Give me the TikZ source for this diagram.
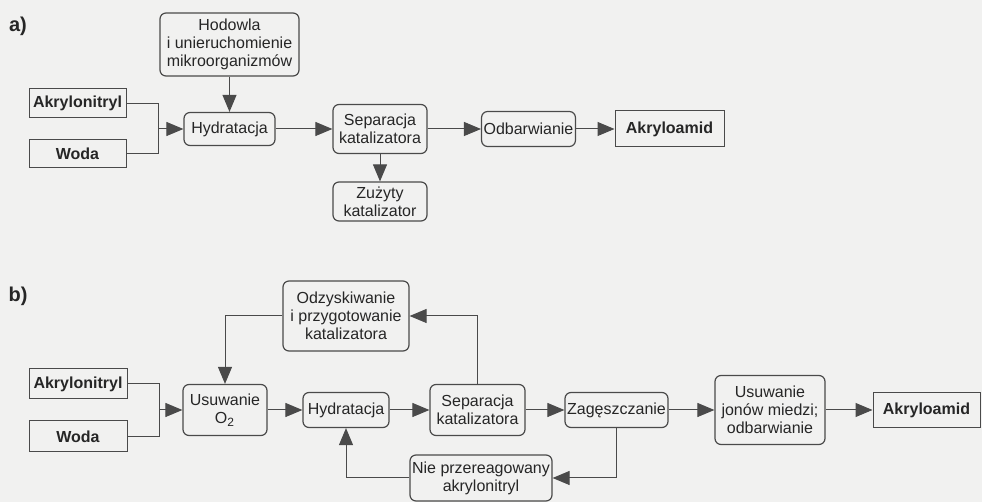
\documentclass[tikz,border=0pt]{standalone}
\usepackage{fontspec}
\setmainfont{Liberation Sans}
\usepackage{tikz}
\usetikzlibrary{positioning}
\usetikzlibrary{arrows.meta}

\definecolor{paper}{HTML}{F1F1F0}
\definecolor{ink}{HTML}{4A4A4A}

\tikzset{
  stage/.style={align=center,draw=ink,rounded corners=3pt,line width=0.6pt,
    inner sep=1pt,font=\fontsize{8}{9}\selectfont,text=black!85},
  feed/.style={align=center,draw=ink,line width=0.5pt,inner sep=1pt,
    font=\fontsize{8}{9}\selectfont\bfseries,text=black!85},
  flow/.style={-{Triangle[length=8.5pt,width=7pt]},draw=ink,line width=0.5pt},
  pipe/.style={draw=ink,line width=0.5pt},
  part/.style={font=\fontsize{10}{12}\selectfont\bfseries,text=black!85}
}

\begin{document}
\begin{tikzpicture}[x=0.5pt,y=-0.5pt]
  \fill[paper] (0,0) rectangle (982,502);
  \useasboundingbox (0,0) rectangle (982,502);

  % a)
  \node at (18,26) [part] (parta) {a)};

  \node at (229.5,44.5) [stage,minimum width=69.5pt,minimum height=31.5pt] (hodowla) {
    Hodowla\\i unieruchomienie\\mikroorganizmów
  };
  \node at (77.5,103.5) [feed,minimum width=48.5pt,minimum height=14.5pt] (akrylA) {Akrylonitryl};
  \node at (77.5,154) [feed,minimum width=48.5pt,minimum height=14pt] (wodaA) {Woda};
  \node at (229.5,129) [stage,minimum width=45.5pt,minimum height=16.5pt] (hydrA) {Hydratacja};
  \node at (380,129) [stage,minimum width=47pt,minimum height=24.5pt] (sepA) {
    Separacja\\katalizatora
  };
  \node at (380,201.5) [stage,minimum width=47pt,minimum height=19.5pt] (zuzyty) {
    Zużyty\\katalizator
  };
  \node at (528.5,129) [stage,minimum width=45.5pt,minimum height=17.5pt] (odbarw) {Odbarwianie};
  \node at (669.5,129) [feed,minimum width=54.5pt,minimum height=18pt] (amidA) {Akryloamid};

  \coordinate (mixA) at (158,129);
  \draw[pipe] (akrylA.east) -| (mixA);
  \draw[pipe] (wodaA.east) -| (mixA);
  \draw[flow] (mixA) -- (hydrA.west);
  \draw[flow] (hodowla) -- (hydrA);
  \draw[flow] (hydrA) -- (sepA);
  \draw[flow] (sepA) -- (zuzyty);
  \draw[flow] (sepA) -- (odbarw);
  \draw[flow] (odbarw) -- (amidA);

  % b)
  \node at (18,296) [part] (partb) {b)};

  \node at (346,316) [stage,minimum width=63pt,minimum height=35pt] (odzysk) {
    Odzyskiwanie\\i przygotowanie\\katalizatora
  };
  \node at (78,384) [feed,minimum width=49pt,minimum height=15pt] (akrylB) {Akrylonitryl};
  \node at (78,436.5) [feed,minimum width=49pt,minimum height=15.5pt] (wodaB) {Woda};
  \node at (225,410) [stage,minimum width=42pt,minimum height=25.5pt] (usuwO) {
    Usuwanie\\O\textsubscript{2}
  };
  \node at (346,410) [stage,minimum width=43pt,minimum height=17.5pt] (hydrB) {Hydratacja};
  \node at (477.5,410) [stage,minimum width=47.5pt,minimum height=25.5pt] (sepB) {
    Separacja\\katalizatora
  };
  \node at (616.5,410) [stage,minimum width=51.5pt,minimum height=17.5pt] (zageszcz) {Zagęszczanie};
  \node at (770,410) [stage,minimum width=55pt,minimum height=34.5pt] (usuwJ) {
    Usuwanie\\jonów miedzi;\\odbarwianie
  };
  \node at (926.5,410) [feed,minimum width=53.5pt,minimum height=17.5pt] (amidB) {Akryloamid};
  \node at (481,478) [stage,minimum width=71pt,minimum height=23pt] (nieprz) {
    Nie przereagowany\\akrylonitryl
  };

  \coordinate (mixB) at (159,410);
  \draw[pipe] (akrylB.east) -| (mixB);
  \draw[pipe] (wodaB.east) -| (mixB);
  \draw[flow] (mixB) -- (usuwO.west);
  \draw[flow] (usuwO) -- (hydrB);
  \draw[flow] (hydrB) -- (sepB);
  \draw[flow] (sepB) -- (zageszcz);
  \draw[flow] (zageszcz) -- (usuwJ);
  \draw[flow] (usuwJ) -- (amidB);
  \draw[flow] (sepB.north) |- (odzysk.east);
  \draw[flow] (odzysk.west) -| (usuwO.north);
  \draw[flow] (zageszcz.south) |- (nieprz.east);
  \draw[flow] (nieprz.west) -| (hydrB.south);
\end{tikzpicture}
\end{document}
